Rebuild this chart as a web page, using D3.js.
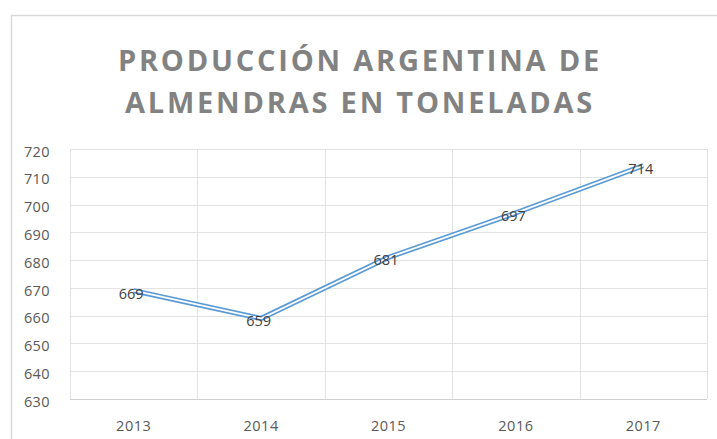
<!DOCTYPE html>
<html><head><meta charset="utf-8">
<script src="https://cdn.jsdelivr.net/npm/d3@7"></script>
<style>body{margin:0;background:#fff}svg{display:block}</style>
</head><body>
<svg id="c" width="717" height="439"></svg>
<script>
const years = ["2013","2014","2015","2016","2017"];
const values = [669, 659, 681, 697, 714];
const yTicks = [630,640,650,660,670,680,690,700,710,720];
const titleLines = ["PRODUCCIÓN ARGENTINA DE","ALMENDRAS EN TONELADAS"];

const svg = d3.select("#c");
svg.append("rect").attr("x",11.5).attr("y",15.5).attr("width",800).attr("height",500)
  .attr("fill","#fff").attr("stroke","#d9d9d9").attr("stroke-width",1.5);

const m = {l:70, r:707, t:149, b:399};
const x = d3.scaleBand().domain(years).range([m.l, m.r]);
const y = d3.scaleLinear().domain([630,720]).range([m.b, m.t]);

// title
svg.append("g").selectAll("text").data(titleLines).join("text")
  .attr("x",360).attr("y",(d,i)=>71+i*42)
  .attr("text-anchor","middle")
  .attr("font-family","Open Sans, sans-serif").attr("font-weight","bold")
  .attr("font-size",29).attr("letter-spacing",2.8).attr("fill","#828282")
  .text(d=>d);

// horizontal grid
svg.append("g").selectAll("line").data(yTicks).join("line")
  .attr("x1",m.l).attr("x2",m.r).attr("y1",d=>Math.round(y(d))+0.5).attr("y2",d=>Math.round(y(d))+0.5)
  .attr("stroke","#e3e3e3").attr("stroke-width",1);
// vertical grid
const bounds = years.map(d=>x(d)).concat([m.r]);
svg.append("g").selectAll("line").data(bounds).join("line")
  .attr("x1",d=>Math.round(d)+0.5).attr("x2",d=>Math.round(d)+0.5).attr("y1",m.t).attr("y2",m.b)
  .attr("stroke","#e3e3e3").attr("stroke-width",1);
svg.append("line").attr("x1",m.l).attr("x2",m.r).attr("y1",Math.round(y(630))+0.5).attr("y2",Math.round(y(630))+0.5)
  .attr("stroke","#d0d0d0");

// y axis labels
const yAxis = d3.axisLeft(y).tickValues(yTicks).tickSize(0).tickPadding(0);
const ga = svg.append("g").attr("transform",`translate(50,2.5)`).call(yAxis);
ga.select(".domain").remove();
ga.selectAll("text").attr("font-family","Open Sans, sans-serif").attr("font-size",14.5)
  .attr("letter-spacing",0.4).attr("fill","#595959");

// x axis labels
const xAxis = d3.axisBottom(x).tickSize(0).tickPadding(0);
const gx = svg.append("g").attr("transform",`translate(0,421)`).call(xAxis);
gx.select(".domain").remove();
gx.selectAll("text").attr("font-family","Open Sans, sans-serif").attr("font-size",14.5)
  .attr("letter-spacing",0.5).attr("fill","#595959");

// line (compound double line)
const line = d3.line().x((d,i)=>x(years[i])+x.bandwidth()/2).y(d=>y(d));
svg.append("path").datum(values).attr("d",line).attr("fill","none")
  .attr("stroke","#5b9bd5").attr("stroke-width",5.2).attr("stroke-linejoin","round");
svg.append("path").datum(values).attr("d",line).attr("fill","none")
  .attr("stroke","#fff").attr("stroke-width",1.8).attr("stroke-linejoin","round");

// data labels
svg.append("g").selectAll("text").data(values).join("text")
  .attr("x",(d,i)=>x(years[i])+x.bandwidth()/2-2.5).attr("y",d=>y(d)+8)
  .attr("text-anchor","middle")
  .attr("font-family","Open Sans, sans-serif").attr("font-size",14.5).attr("fill","#404040")
  .text(d=>d);
</script>
</body></html>
